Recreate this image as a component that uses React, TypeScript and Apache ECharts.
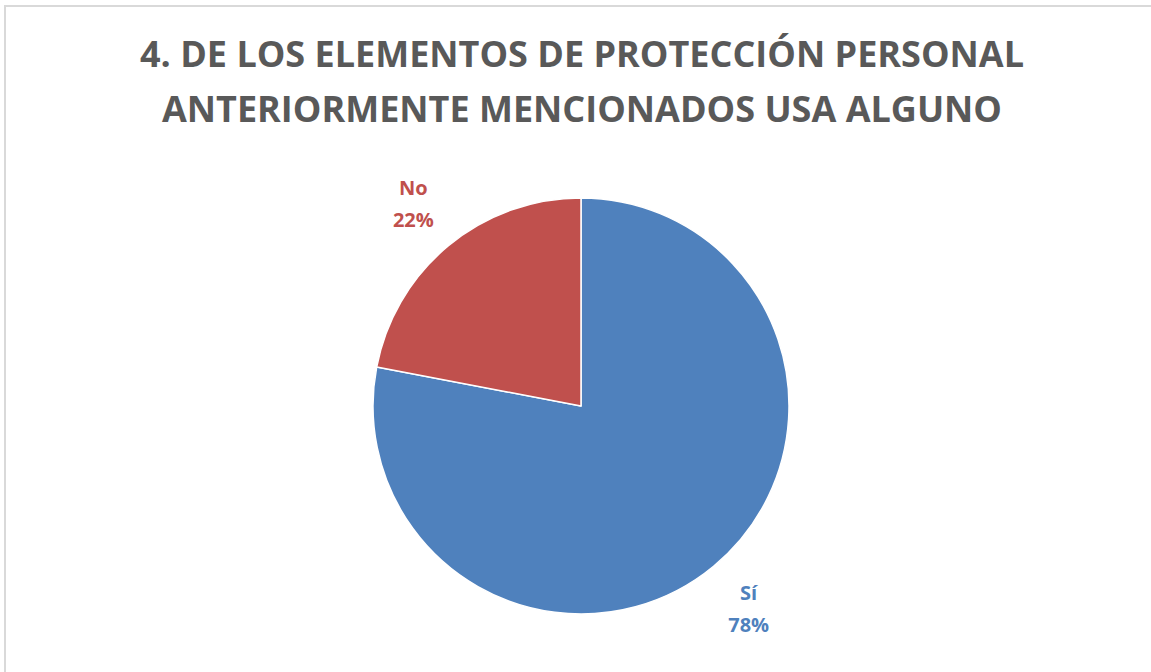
import React, { useEffect, useRef } from "react";
import * as echarts from "echarts";

const titleLines = ["4. DE LOS ELEMENTOS DE PROTECCIÓN PERSONAL", "ANTERIORMENTE MENCIONADOS USA ALGUNO"];
const categories = ["Sí", "No"];
const values = [78, 22];
const colors = ["#4F81BD", "#C0504D"];

export default function App() {
  const ref = useRef<HTMLDivElement>(null);
  useEffect(() => {
    const chart = echarts.init(ref.current!, null, { renderer: "svg" });
    const data = categories.map((c, i) => ({
      name: c,
      value: values[i],
      itemStyle: { color: colors[i] },
      label: { color: colors[i] },
    }));
    chart.setOption({
      animation: false,
      backgroundColor: "#ffffff",
      title: {
        text: titleLines.join("\n"),
        left: 577,
        textAlign: "center",
        top: 21,
        textStyle: {
          fontFamily: "Open Sans",
          fontWeight: "bold",
          fontSize: 36,
          color: "#595959",
          lineHeight: 55,
        },
      },
      graphic: [
        {
          type: "rect",
          shape: { x: 5, y: 6, width: 1200, height: 700 },
          style: { fill: "none", stroke: "#d9d9d9", lineWidth: 2 },
          silent: true,
        },
      ],
      series: [
        {
          type: "pie",
          center: [581, 406],
          radius: [0, 208],
          startAngle: 90,
          clockwise: true,
          itemStyle: { borderColor: "#ffffff", borderWidth: 1.5 },
          label: { show: false },
          labelLine: { show: false },
          data,
        },
        {
          type: "pie",
          center: [581, 406],
          radius: [244, 276],
          startAngle: 90,
          clockwise: true,
          silent: true,
          itemStyle: { color: "transparent" },
          label: {
            show: true,
            position: "inside",
            formatter: (p: any) => `${p.name}\n${p.value}%`,
            fontFamily: "Open Sans",
            fontWeight: "bold",
            fontSize: 20,
            lineHeight: 32,
          },
          labelLine: { show: false },
          data: data.map((d) => ({ ...d, itemStyle: { color: "transparent" } })),
        },
      ],
    });
    return () => chart.dispose();
  }, []);
  return (
    <div
      ref={ref}
      style={{ position: "fixed", left: 0, top: 0, width: 1151, height: 672 }}
    />
  );
}
